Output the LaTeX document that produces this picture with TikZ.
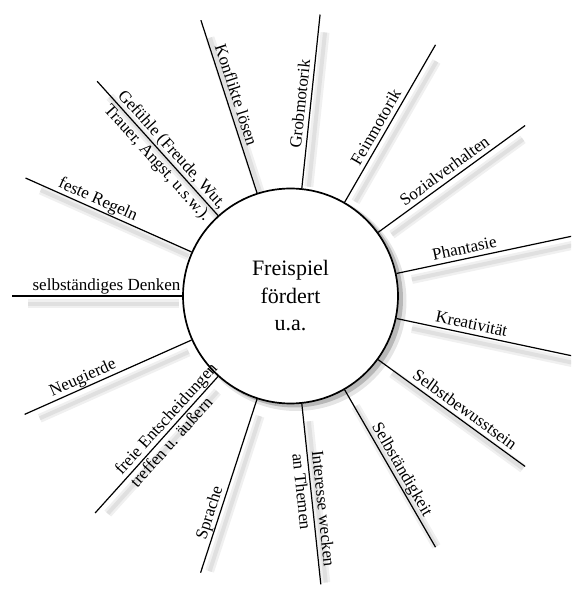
\documentclass[tikz,border=0pt]{standalone}
\usepackage{fontspec}
\setmainfont{Liberation Serif}
\begin{document}
\begin{tikzpicture}[x=1pt,y=1pt,
  spoke/.style={line width=1.2pt},
  shadowA/.style={line width=9pt, black!6},
  shadowB/.style={line width=4pt, black!12},
  hub/.style={circle, draw, line width=1.7pt, minimum size=215pt, inner sep=0pt,
    align=center, fill=white, font=\fontsize{22}{27.5}\selectfont},
  lbl/.style={font=\fontsize{17}{20}\selectfont, anchor=south, text depth=3.6pt, inner sep=1.2pt},
  lblA/.style={lbl, anchor=south west},
  lblB/.style={font=\fontsize{17}{20}\selectfont, anchor=north west, text height=12pt, text depth=3.6pt, inner sep=2.5pt},
]
\useasboundingbox (0,0) rectangle (571,603);
\clip (0,0) rectangle (571,603);
\coordinate (C) at (290.5,307);

% spoke ends
\path (C) ++(108:290) coordinate (e1);
\path (C) ++(84:283) coordinate (e2);
\path (C) ++(60:290) coordinate (e3);
\path (C) ++(36:290) coordinate (e4);
\path (C) ++(12:292) coordinate (e5);
\path (C) ++(-12:292) coordinate (e6);
\path (C) ++(-36:290) coordinate (e7);
\path (C) ++(-60:290) coordinate (e8);
\path (C) ++(-84:290) coordinate (e9);
\path (C) ++(-108:291) coordinate (e10);
\path (C) ++(-132:292) coordinate (e11);
\path (C) ++(-156:291) coordinate (e12);
\path (C) ++(180:278.5) coordinate (e13);
\path (C) ++(156:290) coordinate (e14);
\path (C) ++(132:289) coordinate (e15);

% soft shadows (offset right/down)
\foreach \a/\r in {108/290,84/283,60/290,36/290,12/292,-12/292,-36/290,-60/290,-84/290,-108/291,-132/292,-156/291,180/278.5,156/290,132/289}{
  \draw[shadowA] ([shift={(6,-8)}]C) ++(\a:118) -- ++(\a:\r-128);
  \draw[shadowB] ([shift={(6,-8)}]C) ++(\a:118) -- ++(\a:\r-128);
}
\fill[black!10] ([shift={(6,-5)}]C) circle (110);
\fill[black!28] ([shift={(4,-3)}]C) circle (108.5);

\node[hub] (hub) at (C) {Freispiel\\fördert\\u.a.};

\draw[spoke] (hub.108) -- (e1);
\draw[spoke] (hub.84) -- (e2);
\draw[spoke] (hub.60) -- (e3);
\draw[spoke] (hub.36) -- (e4);
\draw[spoke] (hub.12) -- (e5);
\draw[spoke] (hub.-12) -- (e6);
\draw[spoke] (hub.-36) -- (e7);
\draw[spoke] (hub.-60) -- (e8);
\draw[spoke] (hub.-84) -- (e9);
\draw[spoke] (hub.-108) -- (e10);
\draw[spoke] (hub.-132) -- (e11);
\draw[spoke] (hub.-156) -- (e12);
\draw[spoke, line width=1.9pt] (hub.180) -- (e13);
\draw[spoke] (hub.156) -- (e14);
\draw[spoke] (hub.132) -- (e15);

% labels
\path (C) ++(108:208) node[lbl, rotate=-72] (t1) {Konflikte lösen};
\path (C) ++(84:192) node[lbl, rotate=84] (t2) {Grobmotorik};
\path (C) ++(60:189) node[lbl, rotate=60] (t3) {Feinmotorik};
\path (C) ++(36:198) node[lbl, rotate=36] (t4) {Sozialverhalten};
\path (C) ++(12:180) node[lbl, rotate=12] (t5) {Phantasie};
\path (C) ++(-12:183) node[lbl, rotate=-12] (t6) {Kreativität};
\path (C) ++(-36:208) node[lbl, rotate=-36] (t7) {Selbstbewusstsein};
\path (C) ++(-60:206) node[lbl, rotate=-60] (t8) {Selbständigkeit};
\path (C) ++(-84:155) node[lblA, rotate=-84] (t9a) {Interesse wecken};
\path (C) ++(-84:155) node[lblB, rotate=-84] (t9b) {an Themen};
\path (C) ++(-108:231) node[lbl, rotate=72] (t10) {Sprache};
\path (C) ++(-132:248) node[lblA, rotate=48] (t11a) {freie Entscheidungen};
\path (C) ++(-132:248) node[lblB, rotate=48] (t11b) {treffen u. äußern};
\path (C) ++(-156:223) node[lbl, rotate=24] (t12) {Neugierde};
\path (C) ++(180:184) node[lbl] (t13) {selbständiges Denken};
\path (C) ++(156:215) node[lbl, rotate=-24] (t14) {feste Regeln};
\path (C) ++(132:266) node[lblA, rotate=-48] (t15a) {Gefühle (Freude, Wut,};
\path (C) ++(132:266) node[lblB, rotate=-48] (t15b) {Trauer, Angst, u.s.w.).};
\end{tikzpicture}
\end{document}
